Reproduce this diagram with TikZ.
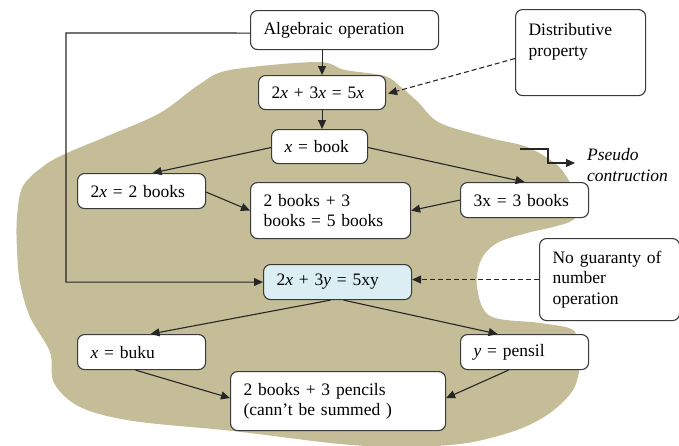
\documentclass[tikz,border=0pt]{standalone}
\usepackage{fontspec}
\setmainfont{Liberation Serif}
\usetikzlibrary{arrows.meta}
\definecolor{blob}{HTML}{C5BD98}
\definecolor{lblue}{HTML}{DAEEF3}
\definecolor{edge}{HTML}{3A3A3A}
\begin{document}
\begin{tikzpicture}[x=1pt,y=-1pt,
  box/.style={draw=edge, line width=1.1pt, rounded corners=7pt, fill=white, inner xsep=13pt, inner ysep=0pt, align=left, anchor=north west, font=\fontsize{17.5}{20.5}\selectfont},
  arr/.style={draw=black!85, line width=1.1pt, -{Triangle[length=9pt,width=8pt]}},
  darr/.style={arr, dashed, dash pattern=on 5pt off 3pt}]
\useasboundingbox (0,0) rectangle (679,445);
\begin{scope}
\clip (0,0) rectangle (679,445);
\fill[blob] plot[smooth cycle, tension=0.55] coordinates {
 (230,70) (317,62) (345,70) (385,76) (402,88) (418,102) (440,123) (490,138)
 (527,147) (557,165) (572,186) (580,206) (573,220) (553,227) (527,233)
 (497,243) (481,260) (477,287) (490,316) (540,323) (573,330) (578,350)
 (580,365) (573,390) (550,413) (517,430) (467,443) (407,447) (340,444)
 (233,431) (133,421) (80,407) (54,383) (50,352) (30,317) (20,283)
 (17,250) (17,217) (23,186) (45,165) (67,153) (110,135) (160,113) (200,84)};
\end{scope}
\node[box, text width=162pt, minimum height=39pt] (alg) at (250,10) {Algebraic operation};
\node[box, text width=101pt, minimum height=34pt] (eqa) at (258,75) {2\textit{x} + 3\textit{x} = 5\textit{x}};
\node[box, text width=70pt, minimum height=34pt] (xb) at (271,129) {\textit{x} = book};
\node[box, text width=102pt, minimum height=35pt] (tb) at (77,173) {2\textit{x} = 2 books};
\node[box, text width=134pt, minimum height=56pt] (comb) at (250,182) {2 books + 3\\books = 5 books};
\node[box, text width=102pt, minimum height=35pt] (thb) at (460,182) {3x = 3 books};
\node[box, inner ysep=14pt, anchor=north west] (dist) at (515,9) {\parbox[c][58pt][t]{104pt}{Distributive\\property}};
\node[box, fill=lblue, text width=122pt, minimum height=35pt] (eqb) at (263,264) {2\textit{x} + 3\textit{y} = 5xy};
\node[box, text width=114pt, minimum height=82pt] (ng) at (539,238) {No guaranty of\\number\\operation};
\node[box, text width=102pt, minimum height=35pt] (xk) at (77,334) {\textit{x} = buku};
\node[box, text width=102pt, minimum height=35pt] (yp) at (460,334) {\textit{y} = pensil};
\node[box, text width=189pt, minimum height=59pt] (bot) at (230,371) {2 books + 3 pencils\\(cann’t be summed )};
\node[anchor=west, align=left, inner sep=0pt, font=\fontsize{17.5}{20.5}\selectfont\itshape] (pseudo) at (587,165) {Pseudo\\contruction};
% connectors
\coordinate (c1) at (66,33);
\draw[arr] ([yshift=-3pt]alg.west) -- (c1) |- (eqb.west);
\draw[arr] (eqa.north |- alg.south) -- (eqa.north);
\draw[arr] (eqa.south) -- (eqa.south |- xb.north);
\draw[arr] ([yshift=-1pt]xb.west) -- ([xshift=11pt]tb.north);
\draw[arr] ([yshift=-1pt]xb.east) -- (thb.north);
\draw[arr] ([yshift=-1pt]tb.east) -- (comb.west);
\draw[arr] (thb.west) -- (comb.east);
\draw[darr] ([yshift=-6pt]dist.west) -- ([xshift=2pt,yshift=-1pt]eqa.east);
\draw[darr] (ng.west) -- (ng.west -| eqb.east);
\draw[arr] ([xshift=-7pt]eqb.south) -- ([xshift=9pt]xk.north);
\draw[arr] ([xshift=6pt]eqb.south) -- ([xshift=-27pt]yp.north);
\draw[arr] ([xshift=-6pt]xk.south) -- ([yshift=3pt]bot.west);
\draw[arr] ([xshift=-16pt]yp.south) -- ([yshift=3pt]bot.east);
\coordinate (p1) at (520,149);
\coordinate (p2) at (548,163);
\coordinate (p3) at (575,163);
\draw[arr] (p1) -| (p2) -- (p3);
\end{tikzpicture}
\end{document}
